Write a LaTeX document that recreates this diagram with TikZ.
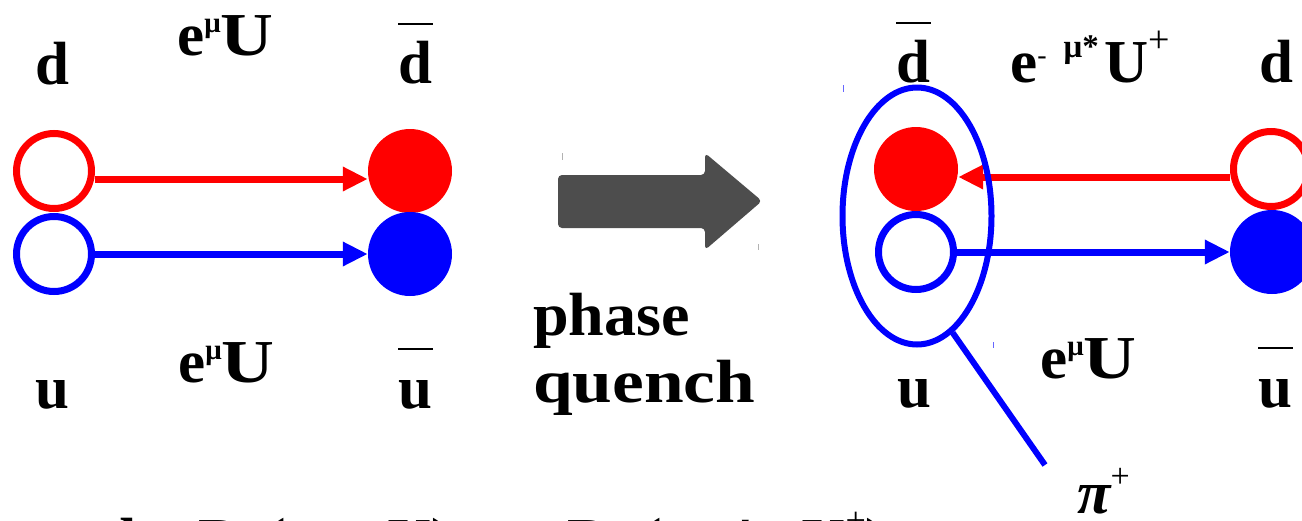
\documentclass[tikz,border=0pt]{standalone}
\usepackage{fontspec}
\setmainfont{Liberation Serif}
\usetikzlibrary{arrows.meta,shapes.geometric}
\definecolor{qred}{RGB}{255,0,0}
\definecolor{qblue}{RGB}{0,0,255}
\definecolor{qgrey}{RGB}{77,77,77}
\newcommand\qmu{\raisebox{23pt}{\fontsize{29}{29}\selectfont μ}}
\newcommand\qwideU{\scalebox{1.2}[1]{U}}
\newcommand\qbar[1]{\rlap{\raisebox{58pt}{\rule{35pt}{2.5pt}}}#1}
\begin{document}
\begin{tikzpicture}[x=1pt,y=-1pt,
  lbl/.style={font=\fontsize{61}{61}\selectfont\bfseries, inner sep=0pt, anchor=base},
  lblw/.style={lbl, anchor=base west},
  openq/.style={circle, draw=#1, line width=7pt, minimum size=75pt, inner sep=0pt},
  fullq/.style={circle, fill=#1, minimum size=84pt, inner sep=0pt},
  link/.style={draw=#1, line width=7pt, -{Triangle[length=25pt,width=23pt]}},
  tickmark/.style={line width=1pt, draw=#1}]
\useasboundingbox (0,0) rectangle (1302,520);
\clip (0,0) rectangle (1302,520);
\fill[white] (0,0) rectangle (1302,520);

% left panel
\node[openq=qred] (ld) at (54,171) {};
\node[fullq=qred] (ldb) at (410,171) {};
\node[openq=qblue] (lu) at (54,254) {};
\node[fullq=qblue] (lub) at (410,254) {};
\draw[link=qred] ([yshift=-8pt]ld.east) -- ([yshift=-8pt]ldb.west);
\draw[link=qblue] (lu) -- (lub);

\node[lbl] (ldl) at (52,84) {d};
\node[lblw] (lphase1) at (177,55) {e\qmu\qwideU};
\node[lbl] (ldbl) at (415,83) {\qbar{d}};
\node[lbl] (lul) at (52,408) {u};
\node[lblw] (lphase2) at (178,382) {e\qmu\qwideU};
\node[lbl] (lubl) at (415,408) {\qbar{u}};

% middle arrow
\fill[qgrey, rounded corners=4pt] (558,175) -- (705,175) -- (705,153) -- (762,201) -- (705,250) -- (705,228) -- (558,228) -- cycle;
\draw[tickmark=gray!60] (562,153) -- (562,160);
\draw[tickmark=gray!60] (758,244) -- (758,250);
\node[lblw] (phase) at (533,335) {\scalebox{1.05}[1]{phase}};
\node[lblw] (quench) at (533,402) {\scalebox{1.17}[1]{quench}};

% right panel
\node[fullq=qred] (rdb) at (916,169) {};
\node[openq=qblue] (ru) at (916,252) {};
\node[openq=qred] (rd) at (1271,169) {};
\node[fullq=qblue] (rub) at (1272,252) {};
\draw[link=qred] ([yshift=-8pt]rd.west) -- ([yshift=-8pt]rdb.east);
\draw[link=qblue] (ru) -- (rub);
\node[draw=qblue, line width=6pt, ellipse, minimum width=149pt, minimum height=257pt, inner sep=0pt] (pair) at (917,216) {};
\draw[tickmark=qblue!60] (843,85) -- (843,92);
\draw[tickmark=qblue!60] (993,342) -- (993,348);

\node[lbl] (rdbl) at (913,82) {\qbar{d}};
\node[lblw] (rphase1) at (1010,82) {e\raisebox{18pt}{\fontsize{28}{28}\selectfont\mdseries -}\hspace{17pt}\raisebox{25pt}{\fontsize{33}{33}\selectfont μ*}\hspace{6pt}U\raisebox{30pt}{\fontsize{38}{38}\selectfont\mdseries +}};
\node[lbl] (rdl) at (1276,82) {d};
\node[lbl] (rul) at (914,407) {u};
\node[lblw] (rphase2) at (1040,378) {e\qmu\qwideU};
\node[lbl] (rubl) at (1275,407) {\qbar{u}};

\coordinate (pitip) at (1045,465);
\draw[qblue, line width=6pt] (pair.-73) -- (pitip);
\node[lblw] (pion) at (1077,513) {\itshape π\raisebox{26pt}{\fontsize{34}{34}\selectfont\mdseries\upshape +}};

% bottom equation (cut off by the lower edge)
\node[lblw] (eq) at (102,560) {det D\hspace{23pt}(μ,\hspace{52pt}U)\hspace{40pt}=\hspace{40pt}D\hspace{30pt}(−μ*,\hspace{25pt}U\raisebox{28pt}{\fontsize{36}{36}\selectfont\mdseries +})};
\end{tikzpicture}
\end{document}
